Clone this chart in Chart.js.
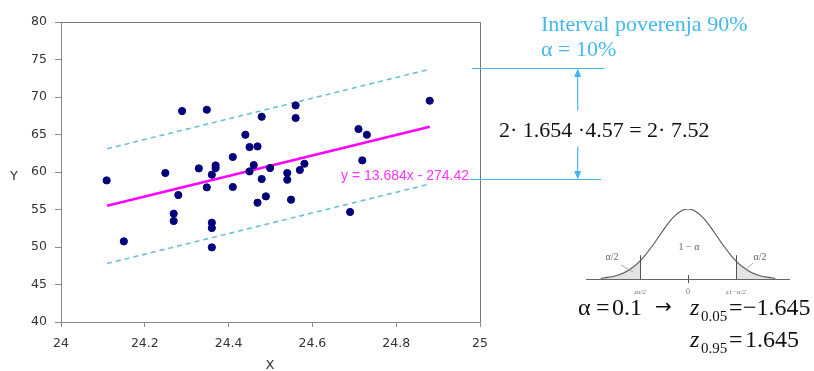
<!DOCTYPE html>
<html>
<head>
<meta charset="utf-8">
<script src="https://cdn.jsdelivr.net/npm/chart.js@4.4.1/dist/chart.umd.min.js"></script>
<style>
  html, body { margin: 0; padding: 0; background: #fff; }
  #wrap { position: relative; width: 814px; height: 371px; overflow: hidden; }
  #main { position: absolute; left: 0; top: 0; }
  #bell { position: absolute; left: 575px; top: 195px; }
</style>
</head>
<body>
<div id="wrap">
  <canvas id="main" width="814" height="371"></canvas>
  <canvas id="bell" width="225" height="105"></canvas>
</div>
<script>
// Scatter values
const xVals = [24.109, 24.150, 24.249, 24.269, 24.269, 24.280, 24.289, 24.329, 24.348, 24.348,
  24.360, 24.360, 24.360, 24.360, 24.369, 24.369, 24.410, 24.410, 24.440, 24.450,
  24.450, 24.460, 24.469, 24.469, 24.479, 24.479, 24.489, 24.499, 24.540, 24.540,
  24.549, 24.560, 24.560, 24.570, 24.581, 24.690, 24.710, 24.719, 24.730, 24.880]
const yVals = [58.88, 50.75, 59.87, 54.44, 53.47, 56.93, 68.13, 60.48, 68.30, 57.95,
  59.64, 53.24, 52.53, 49.95, 60.88, 60.53, 62.00, 58.00, 64.97, 63.33,
  60.08, 60.93, 63.41, 55.91, 67.37, 59.07, 56.75, 60.53, 59.87, 58.97,
  56.31, 68.88, 67.20, 60.27, 61.10, 54.67, 65.73, 61.55, 64.97, 69.50]

// Trend line and the 90% band (end points)
const lineX = [24.11, 24.88]
const trendY = [55.5, 66.04]
const upperY = [63.1, 73.7]
const lowerY = [47.8, 58.4]

const xTicks = [24, 24.2, 24.4, 24.6, 24.8, 25]
const yTicks = [40, 45, 50, 55, 60, 65, 70, 75, 80]

// Standard normal curve (peak scaled to 1)
const bellX = [-3, -2.75, -2.5, -2.25, -2, -1.75, -1.5, -1.25, -1, -0.75, -0.5, -0.25, 0,
  0.25, 0.5, 0.75, 1, 1.25, 1.5, 1.75, 2, 2.25, 2.5, 2.75, 3]
const bellY = [0.0111, 0.0228, 0.0439, 0.0796, 0.1353, 0.2163, 0.3247, 0.4578, 0.6065, 0.7548, 0.8825, 0.9692, 1,
  0.9692, 0.8825, 0.7548, 0.6065, 0.4578, 0.3247, 0.2163, 0.1353, 0.0796, 0.0439, 0.0228, 0.0111]
const leftTailX = [-3, -2.75, -2.5, -2.25, -2, -1.75, -1.645]
const leftTailY = [0.0111, 0.0228, 0.0439, 0.0796, 0.1353, 0.2163, 0.2585]
const rightTailX = [1.645, 1.75, 2, 2.25, 2.5, 2.75, 3]
const rightTailY = [0.2585, 0.2163, 0.1353, 0.0796, 0.0439, 0.0228, 0.0111]

const toPoints = (xs, ys) => xs.map((x, i) => ({ x: x, y: ys[i] }))

const axisColor = "#8a8a8a"
const labelColor = "#333"
const blue = "#45b8ef"

function text(ctx, str, x, y, font, color, align) {
  ctx.font = font
  ctx.fillStyle = color
  ctx.textAlign = align || "left"
  ctx.textBaseline = "alphabetic"
  ctx.fillText(str, x, y)
}

// Everything drawn around the main plot
const extrasPlugin = {
  id: "extras",
  afterDraw(chart) {
    const ctx = chart.ctx
    const a = chart.chartArea
    ctx.save()

    // top and right frame
    ctx.strokeStyle = "#777"
    ctx.lineWidth = 1
    ctx.beginPath()
    ctx.moveTo(a.left, a.top + 0.5)
    ctx.lineTo(a.right + 0.5, a.top + 0.5)
    ctx.lineTo(a.right + 0.5, a.bottom)
    ctx.stroke()

    // axis titles
    text(ctx, "Y", 14, 180, "13px 'DejaVu Sans'", labelColor, "center")
    text(ctx, "X", 270, 369, "13px 'DejaVu Sans'", labelColor, "center")

    // trend equation
    text(ctx, "y = 13.684x - 274.42", 341, 180, "14px 'Liberation Sans'", "#ff33ff")

    // interval guide lines
    ctx.strokeStyle = blue
    ctx.lineWidth = 1.2
    ctx.beginPath()
    ctx.moveTo(472, 68.5)
    ctx.lineTo(604, 68.5)
    ctx.moveTo(470, 179.5)
    ctx.lineTo(601, 179.5)
    ctx.moveTo(577.7, 76)
    ctx.lineTo(577.7, 110.5)
    ctx.moveTo(577.7, 146.5)
    ctx.lineTo(577.7, 172)
    ctx.stroke()
    ctx.fillStyle = blue
    ctx.beginPath()
    ctx.moveTo(577.7, 68.5)
    ctx.lineTo(574.2, 77)
    ctx.lineTo(581.2, 77)
    ctx.closePath()
    ctx.fill()
    ctx.beginPath()
    ctx.moveTo(577.7, 179.5)
    ctx.lineTo(574.2, 171)
    ctx.lineTo(581.2, 171)
    ctx.closePath()
    ctx.fill()

    text(ctx, "Interval poverenja 90%", 541, 31, "22px 'Liberation Serif'", blue)
    text(ctx, "\u03b1 = 10%", 541, 56, "22px 'Liberation Serif'", blue)
    text(ctx, "2\u00b7 1.654 \u00b74.57 = 2\u00b7 7.52", 499, 137, "22px 'Liberation Serif'", "#111")

    // quantile formulas
    const f = "24px 'Liberation Serif'"
    const fs = "15px 'Liberation Serif'"
    const fi = "italic 24px 'Liberation Serif'"
    text(ctx, "\u03b1", 578, 315, f, "#111")
    text(ctx, "=", 596, 315, f, "#111")
    text(ctx, "0.1", 612, 315, f, "#111")
    text(ctx, "\u2192", 655, 313, "20px 'DejaVu Sans'", "#111")
    text(ctx, "z", 690, 315, fi, "#111")
    text(ctx, "0.05", 701, 321, fs, "#111")
    text(ctx, "=", 729, 315, f, "#111")
    text(ctx, "\u22121.645", 743, 315, f, "#111")
    text(ctx, "z", 690, 347, fi, "#111")
    text(ctx, "0.95", 701, 353, fs, "#111")
    text(ctx, "=", 729, 347, f, "#111")
    text(ctx, "1.645", 745, 347, f, "#111")

    ctx.restore()
  },
}

new Chart(document.getElementById("main"), {
  type: "scatter",
  data: {
    datasets: [
      {
        label: "Y",
        data: toPoints(xVals, yVals),
        backgroundColor: "#00007a",
        borderColor: "#00007a",
        borderWidth: 1,
        pointRadius: 3.6,
      },
      {
        label: "trend",
        data: toPoints(lineX, trendY),
        showLine: true,
        borderColor: "#ff00ff",
        borderWidth: 2.6,
        pointRadius: 0,
      },
      {
        label: "upper",
        data: toPoints(lineX, upperY),
        showLine: true,
        borderColor: "#6cbfd9",
        borderWidth: 1.6,
        borderDash: [5, 4],
        pointRadius: 0,
      },
      {
        label: "lower",
        data: toPoints(lineX, lowerY),
        showLine: true,
        borderColor: "#6cbfd9",
        borderWidth: 1.6,
        borderDash: [5, 4],
        pointRadius: 0,
      },
    ],
  },
  options: {
    responsive: false,
    animation: false,
    layout: { padding: { top: 22, right: 334, left: 0, bottom: 0 } },
    plugins: { legend: { display: false }, tooltip: { enabled: false } },
    scales: {
      x: {
        type: "linear",
        min: 24,
        max: 25,
        afterBuildTicks: (s) => { s.ticks = xTicks.map((v) => ({ value: v })) },
        afterFit: (s) => { s.height = 49 },
        grid: { display: true, drawOnChartArea: false, drawTicks: true, tickLength: 5, color: axisColor },
        border: { display: true, color: axisColor },
        ticks: { color: labelColor, font: { family: "DejaVu Sans", size: 12.5 }, padding: 9, maxRotation: 0,
          callback: (v) => String(v) },
      },
      y: {
        type: "linear",
        min: 40,
        max: 80,
        afterBuildTicks: (s) => { s.ticks = yTicks.map((v) => ({ value: v })) },
        afterFit: (s) => { s.width = 61 },
        grid: { display: true, drawOnChartArea: false, drawTicks: true, tickLength: 6, color: axisColor },
        border: { display: true, color: axisColor },
        ticks: { color: labelColor, font: { family: "DejaVu Sans", size: 12.5 }, padding: 8,
          callback: (v) => String(v) },
      },
    },
  },
  plugins: [extrasPlugin],
})

// Small normal-distribution sketch
const bellPlugin = {
  id: "bellExtras",
  afterDraw(chart) {
    const ctx = chart.ctx
    const xs = chart.scales.x
    const ys = chart.scales.y
    const base = ys.getPixelForValue(0)
    ctx.save()
    ctx.strokeStyle = "#666"
    ctx.lineWidth = 1
    ctx.beginPath()
    ctx.moveTo(xs.left, base + 0.5)
    ctx.lineTo(xs.right, base + 0.5)
    ctx.stroke()

    ctx.strokeStyle = "#555"
    ctx.beginPath()
    ;[-1.645, 1.645].forEach((z) => {
      const px = Math.round(xs.getPixelForValue(z)) + 0.5
      ctx.moveTo(px, base)
      ctx.lineTo(px, ys.getPixelForValue(0.34))
    })
    const zero = Math.round(xs.getPixelForValue(0)) + 0.5
    ctx.moveTo(zero, base - 4)
    ctx.lineTo(zero, base + 4)
    ctx.stroke()

    // pointers from the alpha/2 labels into the tails
    ctx.strokeStyle = "#aaa"
    ctx.beginPath()
    ctx.moveTo(46, 70)
    ctx.lineTo(58, 77)
    ctx.moveTo(178, 68)
    ctx.lineTo(170, 75)
    ctx.stroke()

    const small = "10px 'Liberation Serif'"
    text(ctx, "\u03b1/2", 37, 65, small, "#666", "center")
    text(ctx, "1 \u2212 \u03b1", 114, 55, small, "#666", "center")
    text(ctx, "\u03b1/2", 185, 65, small, "#666", "center")
    const tiny = "italic 7px 'Liberation Serif'"
    text(ctx, "z\u03b1/2", xs.getPixelForValue(-1.645), 99, tiny, "#777", "center")
    text(ctx, "0", xs.getPixelForValue(0), 99, "8px 'Liberation Serif'", "#777", "center")
    text(ctx, "z1\u2212\u03b1/2", xs.getPixelForValue(1.645), 99, tiny, "#777", "center")
    ctx.restore()
  },
}

new Chart(document.getElementById("bell"), {
  type: "scatter",
  data: {
    datasets: [
      {
        data: toPoints(bellX, bellY),
        showLine: true,
        borderColor: "#555",
        borderWidth: 1.1,
        pointRadius: 0,
        tension: 0.4,
        fill: false,
      },
      {
        data: toPoints(leftTailX, leftTailY),
        showLine: true,
        borderWidth: 0,
        pointRadius: 0,
        tension: 0.4,
        fill: "origin",
        backgroundColor: "#e4e4e4",
      },
      {
        data: toPoints(rightTailX, rightTailY),
        showLine: true,
        borderWidth: 0,
        pointRadius: 0,
        tension: 0.4,
        fill: "origin",
        backgroundColor: "#e4e4e4",
      },
    ],
  },
  options: {
    responsive: false,
    animation: false,
    layout: { padding: { left: 11, right: 10, top: 14, bottom: 21 } },
    plugins: { legend: { display: false }, tooltip: { enabled: false } },
    scales: {
      x: { type: "linear", min: -3.5, max: 3.5, display: false },
      y: { type: "linear", min: 0, max: 1, display: false },
    },
  },
  plugins: [bellPlugin],
})
</script>
</body>
</html>
